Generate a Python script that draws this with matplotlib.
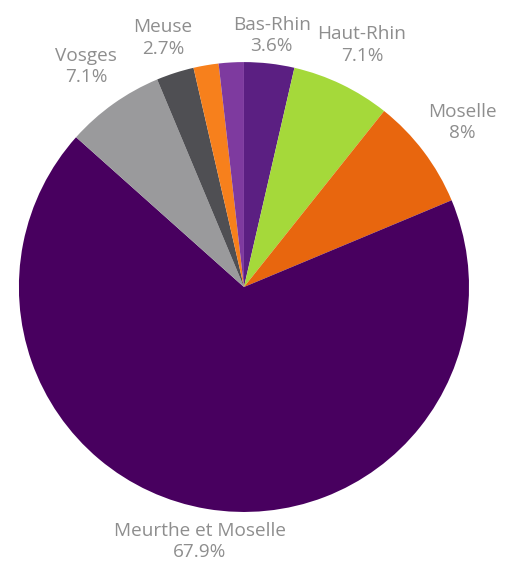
import numpy as np
import matplotlib
matplotlib.use("Agg")
import matplotlib.pyplot as plt

labels = ["Bas-Rhin", "Haut-Rhin", "Moselle", "Meurthe et Moselle", "Vosges", "Meuse", "", ""]
values = [3.6, 7.1, 8.0, 67.9, 7.1, 2.7, 1.8, 1.8]
pct_text = ["3.6%", "7.1%", "8%", "67.9%", "7.1%", "2.7%", "", ""]
colors = ["#5b1f82", "#a5d93a", "#e8660e", "#48005f", "#9a9a9c", "#4f4f53", "#f7801c", "#7e3a9f"]

fig = plt.figure(figsize=(5.12, 5.61), dpi=100)
ax = fig.add_axes([0, 0, 1, 1])
wedges, _ = ax.pie(values, colors=colors, startangle=90, counterclock=False,
                   radius=1.0, wedgeprops=dict(linewidth=0))
ax.set_xlim(-1.084, 1.191)
ax.set_ylim(-1.218, 1.276)
ax.set_aspect("auto")
ax.axis("off")

# label anchor positions (data units, relative to pie centre)
label_pos = [(0.124, 1.12), (0.524, 1.076), (0.969, 0.733),
             (-0.196, -1.133), (-0.702, 0.982), (-0.36, 1.107)]
for i in range(6):
    x, y = label_pos[i]
    ax.text(x, y, labels[i] + "\n" + pct_text[i], ha="center", va="center",
            fontsize=13.7, color="#8e8e8e", family=["Open Sans", "DejaVu Sans"],
            linespacing=1.22)

fig.savefig("out.png", dpi=100)
